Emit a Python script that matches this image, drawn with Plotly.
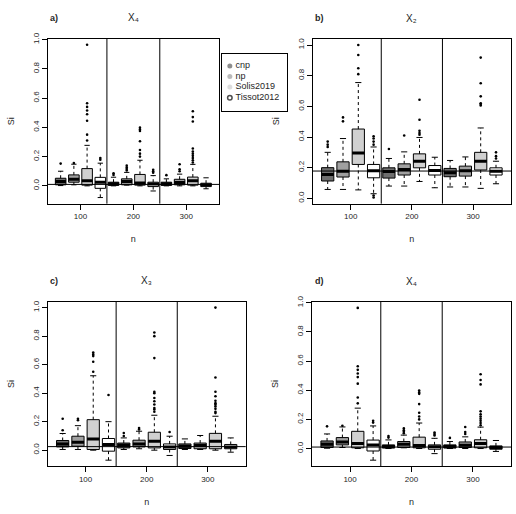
import plotly.graph_objects as go

# ---------------- data ----------------
methods = ["cnp", "np", "Solis2019", "Tissot2012"]
sample_sizes = ["100", "200", "300"]
box_colors = ["#6e6e6e", "#a0a0a0", "#d0d0d0", "#ffffff"]
legend_colors = ["#5c5c5c", "#9c9c9c", "#cfcfcf", "#000000"]

# Each list: one row per method (cnp, np, Solis2019, Tissot2012), one value per n (100, 200, 300)
# ---- X4 (panels a and d)
x4_lower = [[0.002, 0.0, 0.0], [0.007, 0.005, 0.0], [0.0, 0.0, 0.0], [-0.08, -0.035, -0.02]]
x4_q1 = [[0.007, 0.003, 0.003], [0.025, 0.007, 0.007], [0.005, 0.005, 0.005], [-0.017, -0.005, -0.005]]
x4_median = [[0.030, 0.014, 0.014], [0.045, 0.030, 0.023], [0.035, 0.020, 0.035], [0.025, 0.012, 0.007]]
x4_q3 = [[0.052, 0.025, 0.025], [0.075, 0.048, 0.045], [0.118, 0.078, 0.060], [0.058, 0.025, 0.018]]
x4_upper = [[0.100, 0.059, 0.048], [0.148, 0.092, 0.080], [0.277, 0.175, 0.147], [0.155, 0.070, 0.055]]
x4_outliers = [
    [[0.152], [0.075, 0.086], [0.073]],
    [[0.156], [0.105, 0.115, 0.125, 0.138], [0.100, 0.113, 0.148]],
    [[0.31, 0.35, 0.445, 0.49, 0.515, 0.54, 0.565, 0.965],
     [0.20, 0.22, 0.245, 0.305, 0.375, 0.385, 0.398],
     [0.16, 0.175, 0.19, 0.205, 0.22, 0.235, 0.255, 0.44, 0.47, 0.51]],
    [[0.178, 0.19], [0.09, 0.10, 0.11], []],
]
x4_true = 0.01

# ---- X2 (panel b)
x2_lower = [[0.058, 0.080, 0.074], [0.058, 0.080, 0.074], [0.055, 0.110, 0.065], [0.030, 0.069, 0.095]]
x2_q1 = [[0.113, 0.132, 0.141], [0.139, 0.152, 0.145], [0.221, 0.199, 0.185], [0.134, 0.152, 0.152]]
x2_median = [[0.156, 0.175, 0.167], [0.177, 0.188, 0.180], [0.296, 0.242, 0.242], [0.180, 0.182, 0.177]]
x2_q3 = [[0.200, 0.199, 0.195], [0.238, 0.225, 0.210], [0.452, 0.290, 0.300], [0.221, 0.214, 0.199]]
x2_upper = [[0.300, 0.260, 0.247], [0.390, 0.303, 0.270], [0.755, 0.397, 0.459], [0.335, 0.268, 0.242]]
x2_outliers = [
    [[0.335, 0.35, 0.37], [0.322], []],
    [[0.502, 0.528], [0.41], []],
    [[0.81, 0.848, 0.935, 1.0], [0.415, 0.426, 0.44, 0.513, 0.643], [0.605, 0.615, 0.62, 0.665, 0.751, 0.918]],
    [[0.005, 0.018, 0.35, 0.37, 0.39, 0.405], [], [0.26, 0.275, 0.30]],
]
x2_true = 0.178

# ---- X3 (panel c)
x3_lower = [[0.005, 0.005, 0.005], [0.005, 0.010, 0.005], [0.0, 0.0, 0.0], [-0.07, -0.037, -0.014]]
x3_q1 = [[0.023, 0.016, 0.012], [0.028, 0.023, 0.010], [0.005, 0.016, 0.010], [-0.007, 0.005, 0.010]]
x3_median = [[0.044, 0.035, 0.028], [0.056, 0.044, 0.033], [0.079, 0.063, 0.062], [0.040, 0.023, 0.023]]
x3_q3 = [[0.068, 0.050, 0.044], [0.098, 0.070, 0.050], [0.214, 0.126, 0.118], [0.082, 0.044, 0.040]]
x3_upper = [[0.117, 0.086, 0.079], [0.172, 0.133, 0.103], [0.522, 0.245, 0.238], [0.200, 0.098, 0.086]]
x3_outliers = [
    [[0.14, 0.22], [0.10, 0.12], []],
    [[0.21, 0.22], [0.145, 0.156], []],
    [[0.55, 0.62, 0.66, 0.672, 0.685],
     [0.27, 0.285, 0.296, 0.32, 0.343, 0.366, 0.40, 0.41, 0.646, 0.80, 0.825],
     [0.26, 0.27, 0.29, 0.307, 0.32, 0.33, 0.347, 0.378, 0.41, 0.51, 1.0]],
    [[0.387], [0.128], []],
]
x3_true = 0.025

FONT = "Liberation Sans, Arial, sans-serif"
TXT = "#262626"
W, H = 516, 514

panels = [
    dict(tag="a)", var="X₄", data=(x4_lower, x4_q1, x4_median, x4_q3, x4_upper, x4_outliers),
         true=x4_true, px=(47.7, 219.0, 33.0, 200.0)),
    dict(tag="b)", var="X₂", data=(x2_lower, x2_q1, x2_median, x2_q3, x2_upper, x2_outliers),
         true=x2_true, px=(312.7, 511.0, 33.3, 200.0)),
    dict(tag="c)", var="X₃", data=(x3_lower, x3_q1, x3_median, x3_q3, x3_upper, x3_outliers),
         true=x3_true, px=(47.7, 245.7, 299.0, 465.7)),
    dict(tag="d)", var="X₄", data=(x4_lower, x4_q1, x4_median, x4_q3, x4_upper, x4_outliers),
         true=x4_true, px=(312.0, 511.0, 299.3, 465.7)),
]

n_methods = len(methods)
n_groups = len(sample_sizes)
BOXW = 0.8

fig = go.Figure()
layout_axes = {}
shapes = []
annotations = []

for p, panel in enumerate(panels):
    suffix = "" if p == 0 else str(p + 1)
    xa, ya = "x" + suffix, "y" + suffix
    lo, q1, med, q3, hi, outl = panel["data"]

    for m in range(n_methods):
        pos = [g * n_methods + m + 1 for g in range(n_groups)]
        fig.add_trace(go.Box(
            x=pos, q1=q1[m], median=med[m], q3=q3[m], lowerfence=q1[m], upperfence=q3[m],
            orientation="v", width=BOXW, whiskerwidth=0, fillcolor=box_colors[m],
            line=dict(color="black", width=1), boxpoints=False, showlegend=False,
            hoverinfo="skip", xaxis=xa, yaxis=ya))
        wx, wy, cx, cy, mx, my, ox, oy = [], [], [], [], [], [], [], []
        for g in range(n_groups):
            c = pos[g]
            wx += [c, c, None, c, c, None]
            wy += [q3[m][g], hi[m][g], None, q1[m][g], lo[m][g], None]
            cx += [c - BOXW / 4, c + BOXW / 4, None, c - BOXW / 4, c + BOXW / 4, None]
            cy += [hi[m][g], hi[m][g], None, lo[m][g], lo[m][g], None]
            mx += [c - BOXW / 2, c + BOXW / 2, None]
            my += [med[m][g], med[m][g], None]
            for v in outl[m][g]:
                ox.append(c)
                oy.append(v)
        fig.add_trace(go.Scatter(x=wx, y=wy, mode="lines", line=dict(color="black", width=1, dash="3px,3px"),
                                 showlegend=False, hoverinfo="skip", xaxis=xa, yaxis=ya))
        fig.add_trace(go.Scatter(x=cx, y=cy, mode="lines", line=dict(color="black", width=1),
                                 showlegend=False, hoverinfo="skip", xaxis=xa, yaxis=ya))
        fig.add_trace(go.Scatter(x=mx, y=my, mode="lines", line=dict(color="black", width=3),
                                 showlegend=False, hoverinfo="skip", xaxis=xa, yaxis=ya))
        fig.add_trace(go.Scatter(x=ox, y=oy, mode="markers", marker=dict(color="black", size=2.6),
                                 showlegend=False, hoverinfo="skip", xaxis=xa, yaxis=ya))

    # R-style ranges: data range + 4%
    allv = [v for row in lo for v in row] + [v for row in hi for v in row] + \
           [v for row in outl for grp in row for v in grp]
    vmin, vmax = min(allv), max(allv)
    pad = 0.04 * (vmax - vmin)
    x0, x1, y0, y1 = panel["px"]
    xpad = 0.04 * (n_groups * n_methods)
    layout_axes["xaxis" + suffix] = dict(
        domain=[x0 / W, x1 / W], anchor=ya, range=[0.5 - xpad, n_groups * n_methods + 0.5 + xpad],
        tickvals=[g * n_methods + (n_methods + 1) / 2 for g in range(n_groups)], ticktext=sample_sizes,
        ticks="outside", ticklen=5, tickcolor="black", showline=True, linecolor="black", linewidth=1,
        mirror=True, showgrid=False, zeroline=False, tickfont=dict(size=8, color=TXT, family=FONT),
        title=dict(text="n", font=dict(size=9, color=TXT, family=FONT)))
    layout_axes["yaxis" + suffix] = dict(
        domain=[1 - y1 / H, 1 - y0 / H], anchor=xa, range=[vmin - pad, vmax + pad],
        tickvals=[0, 0.2, 0.4, 0.6, 0.8, 1.0], ticktext=["0.0", "0.2", "0.4", "0.6", "0.8", "1.0"],
        tickangle=-90, ticks="outside", ticklen=5, tickcolor="black", showline=True, linecolor="black",
        linewidth=1, mirror=True, showgrid=False, zeroline=False,
        tickfont=dict(size=8, color=TXT, family=FONT),
        title=dict(text="Si", font=dict(size=9, color=TXT, family=FONT)))

    # group separators and true value line
    for g in range(1, n_groups):
        shapes.append(dict(type="line", xref=xa, yref=ya + " domain", x0=g * n_methods + 0.5,
                           x1=g * n_methods + 0.5, y0=0, y1=1, line=dict(color="black", width=1)))
    shapes.append(dict(type="line", xref=xa + " domain", yref=ya, x0=0, x1=1, y0=panel["true"],
                       y1=panel["true"], line=dict(color="black", width=1)))

    annotations.append(dict(text=panel["tag"], xref="paper", yref="paper",
                            x=(x0 + 0.5) / W, y=1 - (y0 - 21) / H, xanchor="left", yanchor="middle",
                            showarrow=False, font=dict(size=9, color=TXT, family=FONT, weight="bold")))
    annotations.append(dict(text=panel["var"], xref="paper", yref="paper",
                            x=(x0 + x1) / 2 / W, y=1 - (y0 - 21) / H, xanchor="center", yanchor="middle",
                            showarrow=False, font=dict(size=10, color=TXT, family=FONT)))

# ---- legend (drawn as its own small frame)
leg_y = [i + 1 for i in range(n_methods)]
fig.add_trace(go.Scatter(
    x=[1.0] * n_methods, y=leg_y, mode="markers",
    marker=dict(size=[5, 5, 5, 4.5], color=legend_colors, symbol=["circle", "circle", "circle", "circle-open"],
                line=dict(width=[0, 0, 0, 1.5], color=legend_colors)),
    showlegend=False, hoverinfo="skip", xaxis="x5", yaxis="y5", cliponaxis=False))
fig.add_trace(go.Scatter(
    x=[1.7] * n_methods, y=leg_y, mode="text", text=methods, textposition="middle right",
    textfont=dict(size=9, color=TXT, family=FONT),
    showlegend=False, hoverinfo="skip", xaxis="x5", yaxis="y5", cliponaxis=False))
layout_axes["xaxis5"] = dict(domain=[221.7 / W, 286.7 / W], anchor="y5", range=[0, 8],
                             showline=True, linecolor="black", linewidth=1, mirror=True,
                             showticklabels=False, ticks="", showgrid=False, zeroline=False)
layout_axes["yaxis5"] = dict(domain=[1 - 106.7 / H, 1 - 48.3 / H], anchor="x5", range=[5.31, -0.16],
                             showline=True, linecolor="black", linewidth=1, mirror=True,
                             showticklabels=False, ticks="", showgrid=False, zeroline=False)

fig.update_layout(
    width=W, height=H, margin=dict(l=0, r=0, t=0, b=0),
    paper_bgcolor="white", plot_bgcolor="white",
    shapes=shapes, annotations=annotations, showlegend=False,
    font=dict(family=FONT, color=TXT),
    **layout_axes)

fig.write_html("out.html")
